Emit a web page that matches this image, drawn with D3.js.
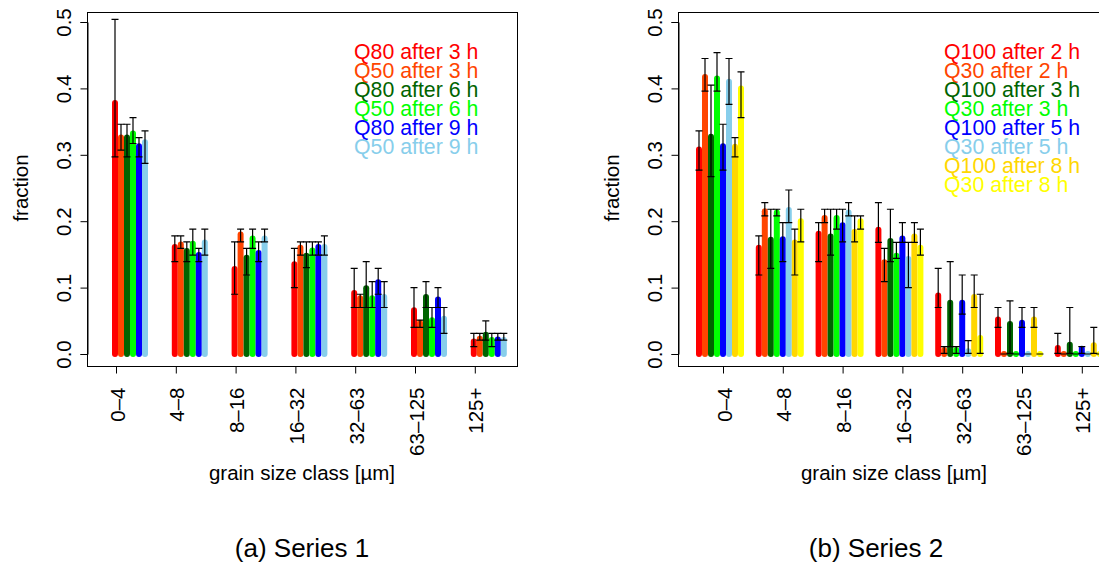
<!DOCTYPE html>
<html>
<head>
<meta charset="utf-8">
<script src="https://cdn.jsdelivr.net/npm/d3@7"></script>
<style>
  html, body { margin: 0; padding: 0; background: #fff; }
  svg { display: block; font-family: "Liberation Sans", Arial, Helvetica, sans-serif; }
</style>
</head>
<body>
<svg id="chart" width="1099" height="563"></svg>
<script>
// ---------------- DATA ----------------
const categories = ["0–4", "4–8", "8–16", "16–32", "32–63", "63–125", "125+"];
const yTicks = [0.0, 0.1, 0.2, 0.3, 0.4, 0.5];

// Series 1
const s1Names = ["Q80 after 3 h", "Q50 after 3 h", "Q80 after 6 h", "Q50 after 6 h", "Q80 after 9 h", "Q50 after 9 h"];
const s1Colors = ["#ff0000", "#ff4500", "#006400", "#00ff00", "#0000ff", "#87ceeb"];
// values[category][series]
const s1Values = [
  [0.378, 0.326, 0.326, 0.332, 0.313, 0.319],
  [0.161, 0.165, 0.155, 0.166, 0.149, 0.168],
  [0.128, 0.180, 0.145, 0.174, 0.152, 0.174],
  [0.135, 0.160, 0.148, 0.156, 0.161, 0.161],
  [0.092, 0.084, 0.099, 0.084, 0.108, 0.086],
  [0.066, 0.047, 0.086, 0.051, 0.082, 0.053],
  [0.019, 0.023, 0.029, 0.021, 0.022, 0.021]
];
const s1Low = [
  [0.297, 0.307, 0.297, 0.317, 0.297, 0.287],
  [0.139, 0.159, 0.139, 0.149, 0.139, 0.149],
  [0.090, 0.169, 0.119, 0.159, 0.139, 0.169],
  [0.100, 0.149, 0.130, 0.149, 0.149, 0.149],
  [0.070, 0.070, 0.070, 0.070, 0.090, 0.070],
  [0.040, 0.040, 0.070, 0.040, 0.070, 0.031],
  [0.011, 0.021, 0.021, 0.011, 0.021, 0.021]
];
const s1High = [
  [0.504, 0.346, 0.346, 0.356, 0.326, 0.336],
  [0.178, 0.178, 0.169, 0.188, 0.159, 0.188],
  [0.169, 0.188, 0.159, 0.188, 0.169, 0.188],
  [0.159, 0.169, 0.169, 0.169, 0.169, 0.178],
  [0.129, 0.090, 0.139, 0.109, 0.129, 0.109],
  [0.100, 0.051, 0.109, 0.070, 0.100, 0.070],
  [0.031, 0.031, 0.050, 0.031, 0.031, 0.031]
];

// Series 2
const s2Names = ["Q100 after 2 h", "Q30 after 2 h", "Q100 after 3 h", "Q30 after 3 h", "Q100 after 5 h", "Q30 after 5 h", "Q100 after 8 h", "Q30 after 8 h"];
const s2Colors = ["#ff0000", "#ff4500", "#006400", "#00ff00", "#0000ff", "#87ceeb", "#ffd700", "#ffff00"];
const s2Values = [
  [0.308, 0.417, 0.327, 0.415, 0.313, 0.410, 0.312, 0.400],
  [0.160, 0.215, 0.172, 0.213, 0.173, 0.217, 0.168, 0.200],
  [0.181, 0.205, 0.177, 0.205, 0.194, 0.213, 0.184, 0.200],
  [0.187, 0.138, 0.170, 0.148, 0.174, 0.143, 0.177, 0.160],
  [0.088, 0.006, 0.077, 0.006, 0.077, 0.004, 0.086, 0.024],
  [0.052, 0.000, 0.045, 0.000, 0.047, 0.000, 0.052, 0.000],
  [0.009, 0.000, 0.014, 0.000, 0.008, 0.000, 0.013, 0.000]
];
const s2Low = [
  [0.277, 0.396, 0.267, 0.396, 0.277, 0.376, 0.297, 0.356],
  [0.119, 0.208, 0.129, 0.208, 0.139, 0.198, 0.119, 0.169],
  [0.139, 0.198, 0.149, 0.188, 0.169, 0.208, 0.169, 0.188],
  [0.168, 0.109, 0.139, 0.144, 0.168, 0.100, 0.168, 0.149],
  [0.070, 0.001, 0.011, 0.001, 0.060, 0.001, 0.070, 0.001],
  [0.040, 0.000, 0.001, 0.000, 0.040, 0.000, 0.040, 0.000],
  [0.001, 0.000, 0.001, 0.000, 0.001, 0.000, 0.001, 0.000]
];
const s2High = [
  [0.336, 0.445, 0.405, 0.454, 0.346, 0.445, 0.326, 0.425],
  [0.178, 0.228, 0.218, 0.218, 0.198, 0.247, 0.188, 0.218],
  [0.198, 0.218, 0.218, 0.218, 0.218, 0.228, 0.208, 0.208],
  [0.228, 0.159, 0.218, 0.168, 0.198, 0.168, 0.198, 0.188],
  [0.129, 0.011, 0.139, 0.011, 0.119, 0.020, 0.119, 0.090],
  [0.070, 0.000, 0.080, 0.000, 0.070, 0.000, 0.070, 0.000],
  [0.031, 0.000, 0.070, 0.000, 0.011, 0.000, 0.040, 0.000]
];

const captions = ["(a) Series 1", "(b) Series 2"];

// ---------------- LAYOUT ----------------
const svg = d3.select("#chart");
const FONT = 20.5;

const panels = [
  { names: s1Names, colors: s1Colors, values: s1Values, low: s1Low, high: s1High,
    box: { l: 87, r: 517, t: 12, b: 366 }, tick0: 116, barShift: -1, legendX: 354, caption: captions[0] },
  { names: s2Names, colors: s2Colors, values: s2Values, low: s2Low, high: s2High,
    box: { l: 678, r: 1110, t: 12, b: 366 }, tick0: 723, barShift: -24, legendX: 944, caption: captions[1] }
];

const groupStep = 59.8;
const barStep = 6;
const barWidth = 6;
const capHalf = 3.5;

panels.forEach(p => {
  const g = svg.append("g");
  const y = d3.scaleLinear().domain([0, 0.5]).range([354, 22]);
  const x = d3.scalePoint().domain(categories)
    .range([p.tick0, p.tick0 + groupStep * (categories.length - 1)]);
  const nS = p.names.length;
  const off = d3.scaleLinear().domain([0, 1]).range([p.barShift, p.barShift + barStep]);

  // clip to the plot box
  // bars
  const bars = [];
  categories.forEach((c, i) => {
    for (let j = 0; j < nS; j++) {
      bars.push({ c, j, v: p.values[i][j], lo: p.low[i][j], hi: p.high[i][j] });
    }
  });

  g.append("g").selectAll("path.bar").data(bars).join("path")
    .attr("class", "bar")
    .attr("d", d => {
      const xx = x(d.c) + off(d.j);
      return `M${xx},${y(0)}L${xx},${y(d.v)}`;
    })
    .attr("stroke", d => p.colors[d.j])
    .attr("stroke-width", barWidth)
    .attr("stroke-linecap", "round")
    .attr("fill", "none");

  // error bars
  const eg = g.append("g").attr("stroke", "#000").attr("stroke-width", 1.2).attr("fill", "none");
  eg.selectAll("path.err").data(bars).join("path")
    .attr("class", "err")
    .attr("d", d => {
      const xx = x(d.c) + off(d.j);
      const y1 = y(d.lo), y2 = y(d.hi);
      return `M${xx},${y1}L${xx},${y2}` +
             `M${xx - capHalf},${y1}L${xx + capHalf},${y1}` +
             `M${xx - capHalf},${y2}L${xx + capHalf},${y2}`;
    });

  // box
  g.append("rect")
    .attr("x", p.box.l + 0.5).attr("y", p.box.t + 0.5)
    .attr("width", p.box.r - p.box.l).attr("height", p.box.b - p.box.t)
    .attr("fill", "none").attr("stroke", "#000").attr("stroke-width", 1);

  // y axis
  const yAxis = d3.axisLeft(y).tickValues(yTicks).tickSize(7).tickFormat(d3.format(".1f"));
  const ya = g.append("g").attr("transform", `translate(${p.box.l + 0.5},0)`).call(yAxis);
  ya.select(".domain").attr("stroke", "#000");
  ya.selectAll(".tick line").attr("stroke", "#000");
  ya.selectAll(".tick text")
    .attr("font-size", FONT).attr("fill", "#000")
    .attr("font-family", "Liberation Sans, Arial, sans-serif")
    .attr("x", null).attr("dy", null)
    .attr("text-anchor", "middle")
    .attr("transform", `translate(${-17},0) rotate(-90)`);

  // x axis
  const xAxis = d3.axisBottom(x).tickSize(7).tickSizeOuter(0);
  const xa = g.append("g").attr("transform", `translate(0,${p.box.b + 0.5})`).call(xAxis);
  xa.select(".domain").remove();
  xa.selectAll(".tick line").attr("stroke", "#000");
  xa.selectAll(".tick text")
    .attr("font-size", FONT).attr("fill", "#000")
    .attr("font-family", "Liberation Sans, Arial, sans-serif")
    .attr("y", null).attr("dy", null)
    .attr("text-anchor", "end")
    .attr("transform", `translate(8,21) rotate(-90)`);

  // axis titles
  g.append("text")
    .attr("transform", `translate(${p.box.l - 59},${(y(0) + y(0.5)) / 2}) rotate(-90)`)
    .attr("text-anchor", "middle").attr("font-size", FONT).attr("fill", "#000")
    .text("fraction");
  g.append("text")
    .attr("x", (p.box.l + p.box.r) / 2).attr("y", 480)
    .attr("text-anchor", "middle").attr("font-size", FONT).attr("fill", "#000")
    .text("grain size class [µm]");

  // legend
  g.append("g").selectAll("text").data(p.names).join("text")
    .attr("x", p.legendX)
    .attr("y", (d, i) => 59.4 + i * 18.9)
    .attr("font-size", 21.3)
    .attr("fill", (d, i) => p.colors[i])
    .text(d => d);

  // caption
  svg.append("text")
    .attr("x", p === panels[0] ? 302 : 876).attr("y", 557)
    .attr("text-anchor", "middle").attr("font-size", 26).attr("fill", "#000")
    .text(p.caption);
});
</script>
</body>
</html>
